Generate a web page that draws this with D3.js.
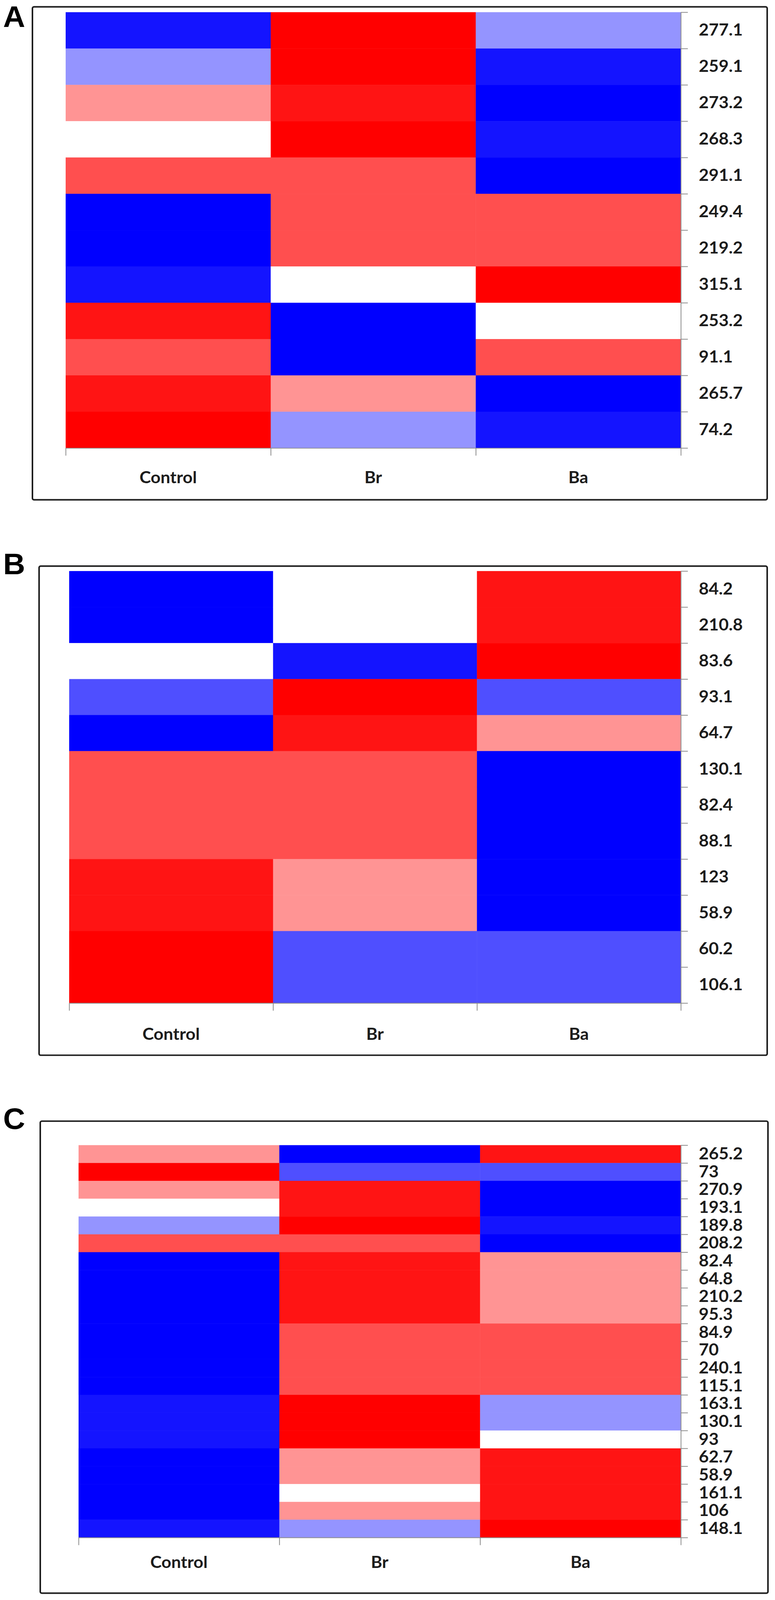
<!DOCTYPE html>
<html>
<head>
<meta charset="utf-8">
<script src="https://cdn.jsdelivr.net/npm/d3@7"></script>
<style>
    html, body { margin: 0; padding: 0; background: #fff; overflow: hidden; }
    svg { display: block; }
</style>
</head>
<body>
<div id="chart"></div>
<script>
// column categories shared by the three panels
var groups = ["Control", "Br", "Ba"];

// panel A : row labels and cell levels (-1 = full blue, 0 = white, 1 = full red)
var rowsA = ["277.1", "259.1", "273.2", "268.3", "291.1", "249.4", "219.2", "315.1", "253.2", "91.1", "265.7", "74.2"];
var controlA = [-0.92, -0.42, 0.42, 0, 0.69, -1, -1, -0.92, 0.92, 0.69, 0.92, 1];
var brA = [1, 1, 0.92, 1, 0.69, 0.69, 0.69, 0, -1, -1, 0.42, -0.42];
var baA = [-0.42, -0.92, -1, -0.92, -1, 0.69, 0.69, 1, 0, 0.69, -1, -0.92];

// panel B
var rowsB = ["84.2", "210.8", "83.6", "93.1", "64.7", "130.1", "82.4", "88.1", "123", "58.9", "60.2", "106.1"];
var controlB = [-1, -1, 0, -0.69, -1, 0.69, 0.69, 0.69, 0.92, 0.92, 1, 1];
var brB = [0, 0, -0.92, 1, 0.92, 0.69, 0.69, 0.69, 0.42, 0.42, -0.69, -0.69];
var baB = [0.92, 0.92, 1, -0.69, 0.42, -1, -1, -1, -1, -1, -0.69, -0.69];

// panel C
var rowsC = ["265.2", "73", "270.9", "193.1", "189.8", "208.2", "82.4", "64.8", "210.2", "95.3", "84.9",
    "70", "240.1", "115.1", "163.1", "130.1", "93", "62.7", "58.9", "161.1", "106", "148.1"];
var controlC = [0.42, 1, 0.42, 0, -0.42, 0.69, -1, -1, -1, -1, -1, -1, -1, -1, -0.92, -0.92, -0.92, -1, -1, -1, -1, -0.92];
var brC = [-1, -0.69, 0.92, 0.92, 1, 0.69, 0.92, 0.92, 0.92, 0.92, 0.69, 0.69, 0.69, 0.69, 1, 1, 1, 0.42, 0.42, 0, 0.42, -0.42];
var baC = [0.92, -0.69, -1, -1, -0.92, -1, 0.42, 0.42, 0.42, 0.42, 0.69, 0.69, 0.69, 0.69, -0.42, -0.42, 0, 0.92, 0.92, 0.92, 0.92, 1];

var W = 1983, H = 4200;

var color = d3.scaleLinear()
    .domain([-1, 0, 1])
    .range(["#0000ff", "#ffffff", "#ff0000"]);

// drawing space is 1983x4200, stretched onto whatever the viewport really is
var svg = d3.select("#chart").append("svg")
    .attr("viewBox", "0 0 " + W + " " + H)
    .attr("preserveAspectRatio", "none")
    .style("width", "100vw")
    .style("height", "100vh");

// layout of each panel (frame, heat area, letter, label padding)
var panels = [
    { letter: "A", rows: rowsA, cols: [controlA, brA, baA],
      box: [83, 18, 1963, 1312], heat: [168, 32, 1742, 1176], letterY: 71, pad: 61 },
    { letter: "B", rows: rowsB, cols: [controlB, brB, baB],
      box: [100, 1486, 1963, 2770], heat: [177, 1499, 1742, 2633], letterY: 1507, pad: 65 },
    { letter: "C", rows: rowsC, cols: [controlC, brC, baC],
      box: [103, 2943, 1965, 4182], heat: [201, 3006, 1742, 4036], letterY: 2963, pad: 49 }
];

panels.forEach(function (p) {
    drawPanel(p);
});

function drawPanel(p) {
    var g = svg.append("g").attr("class", "panel_" + p.letter);

    g.append("rect")
        .attr("x", p.box[0])
        .attr("y", p.box[1])
        .attr("width", p.box[2] - p.box[0])
        .attr("height", p.box[3] - p.box[1])
        .attr("rx", 4)
        .attr("fill", "#fff")
        .attr("stroke", "#1e1e1e")
        .attr("stroke-width", 4);

    g.append("text")
        .attr("x", 8)
        .attr("y", p.letterY)
        .style("font-family", "'Liberation Sans', Arial, sans-serif")
        .style("font-weight", "bold")
        .style("font-size", "78px")
        .attr("fill", "#000")
        .text(p.letter);

    var x = d3.scaleBand()
        .domain(groups)
        .range([p.heat[0], p.heat[2]]);

    var y = d3.scaleBand()
        .domain(p.rows)
        .range([p.heat[1], p.heat[3]]);

    // flatten the column arrays into cells
    var cells = [];
    p.cols.forEach(function (vals, ci) {
        vals.forEach(function (v, ri) {
            cells.push({ group: groups[ci], row: p.rows[ri], value: v });
        });
    });

    g.append("g").selectAll("rect")
        .data(cells)
        .enter()
        .append("rect")
        .attr("x", function (d) { return x(d.group); })
        .attr("y", function (d) { return y(d.row); })
        .attr("width", x.bandwidth() + 0.5)
        .attr("height", y.bandwidth() + 0.5)
        .attr("fill", function (d) { return color(d.value); });

    // tick marks sit on the cell boundaries
    var yEdge = d3.scaleLinear().domain([0, p.rows.length]).range([p.heat[1], p.heat[3]]);
    var xEdge = d3.scaleLinear().domain([0, groups.length]).range([p.heat[0], p.heat[2]]);

    var rightTicks = g.append("g")
        .attr("transform", "translate(" + p.heat[2] + ",0)")
        .call(d3.axisRight(yEdge).tickValues(d3.range(p.rows.length + 1)).tickSize(18).tickSizeOuter(0).tickFormat(""));

    var bottomTicks = g.append("g")
        .attr("transform", "translate(0," + p.heat[3] + ")")
        .call(d3.axisBottom(xEdge).tickValues(d3.range(groups.length + 1)).tickSize(20).tickSizeOuter(0).tickFormat(""));

    [rightTicks, bottomTicks].forEach(function (a) {
        a.selectAll("path, line")
            .attr("stroke", "#8a8a8a")
            .attr("stroke-width", 2);
    });

    // row labels
    var rowAxis = g.append("g")
        .attr("transform", "translate(" + p.heat[2] + ",0)")
        .call(d3.axisRight(y).tickSize(0).tickPadding(46));
    rowAxis.select(".domain").remove();

    // group labels
    var colAxis = g.append("g")
        .attr("transform", "translate(0," + p.heat[3] + ")")
        .call(d3.axisBottom(x).tickSize(0).tickPadding(p.pad));
    colAxis.select(".domain").remove();

    [rowAxis, colAxis].forEach(function (a) {
        a.selectAll("text")
            .attr("fill", "#1c1c1c")
            .style("font-family", "Lato, 'Open Sans', sans-serif")
            .style("font-weight", "bold")
            .style("font-size", "44px");
    });
}
</script>
</body>
</html>
